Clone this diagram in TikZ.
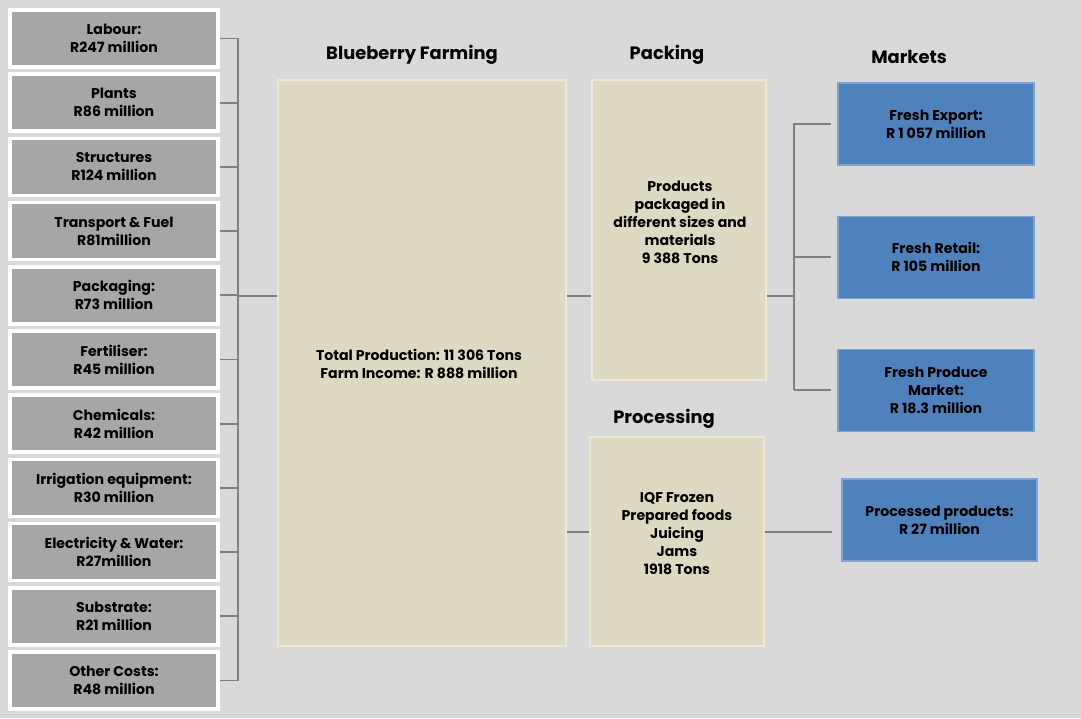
\documentclass[tikz,border=0pt]{standalone}
\usepackage{fontspec}
\setmainfont{Poppins}
\usepackage{xcolor}
\usepackage{tikz}
\usetikzlibrary{calc}
\usetikzlibrary{positioning}

\definecolor{bgGray}{HTML}{D9D9D9}
\definecolor{costGray}{HTML}{A6A6A6}
\definecolor{lineGray}{HTML}{808080}
\definecolor{stageBeige}{HTML}{DDD9C3}
\definecolor{stageEdge}{HTML}{ECE8D6}
\definecolor{mktBlue}{HTML}{4F81BD}
\definecolor{mktEdge}{HTML}{7FA2CF}

\begin{document}
\begin{tikzpicture}[x=0.75pt,y=-0.75pt,font=\fontsize{10.6}{13.5}\selectfont\bfseries,node distance=48.15pt]
  \tikzstyle{cost}=[draw=white, line width=2.6pt, fill=costGray, minimum width=156pt, minimum height=42.75pt, align=center, inner sep=1pt]
  \tikzstyle{stage}=[draw=stageEdge, line width=0.8pt, fill=stageBeige, inner sep=2pt]
  \tikzstyle{txt}=[align=center, inner sep=1pt]
  \tikzstyle{mkt}=[draw=mktEdge, line width=0.8pt, fill=mktBlue, minimum width=147pt, minimum height=61.5pt, align=center, inner sep=1pt]
  \tikzstyle{ttl}=[font=\fontsize{13.4}{16}\selectfont\bfseries]
  \tikzstyle{conn}=[draw=lineGray, line width=1.4pt]

  \fill[bgGray] (0,0) rectangle (1081,718);
  \useasboundingbox (0,0) rectangle (1081,718);

  % cost column
  \node[cost] (lab) at (114,38.5) {Labour:\\R247 million};
  \node[cost] (pla) [below of=lab] {Plants\\R86 million};
  \node[cost] (str) [below of=pla] {Structures\\R124 million};
  \node[cost] (tra) [below of=str] {Transport \& Fuel\\R81million};
  \node[cost] (pac) [below of=tra] {Packaging:\\R73 million};
  \node[cost] (fer) [below of=pac] {Fertiliser:\\R45 million};
  \node[cost] (che) [below of=fer] {Chemicals:\\R42 million};
  \node[cost] (irr) [below of=che] {Irrigation equipment:\\R30 million};
  \node[cost] (ele) [below of=irr] {Electricity \& Water:\\R27million};
  \node[cost] (sub) [below of=ele] {Substrate:\\R21 million};
  \node[cost] (oth) [below of=sub] {Other Costs:\\R48 million};

  % stages
  \node[stage, minimum width=216pt, minimum height=424.5pt] (farm) at (422,363) {};
  \node[stage, minimum width=130.5pt, minimum height=225pt] (pack) at (679,230) {};
  \node[stage, minimum width=130.5pt, minimum height=156.75pt] (proc) at (677,541.5) {};
  \node[txt] (farmtxt) at (419,364) {Total Production: 11 306 Tons\\Farm Income: R 888 million};
  \node[txt] (packtxt) at (680,222) {Products\\packaged in\\different sizes and\\materials\\9 388 Tons};
  \node[txt] (proctxt) at (677,534) {IQF Frozen\\Prepared foods\\Juicing\\Jams\\1918 Tons};

  \node[ttl] (tfarm) at (412,55) {Blueberry Farming};
  \node[ttl] (tpack) at (667,55) {Packing};
  \node[ttl] (tmkt)  at (909,57) {Markets};
  \node[ttl] (tproc) at (664,419) {Processing};

  % markets
  \node[mkt] (exp) at (936,124) {Fresh Export:\\R 1 057 million};
  \node[mkt] (ret) [below=37.5pt of exp] {Fresh Retail:\\R 105 million};
  \node[mkt] (fpm) [below=37.5pt of ret] {Fresh Produce\\Market:\\R 18.3 million};
  \node[mkt, minimum width=146.25pt] (ppr) at (939.5,520) {Processed products:\\R 27 million};

  \coordinate (cbus) at (238,296);
  \coordinate (mbus) at (794,296);

  % cost bracket
  \draw[conn] (lab.east) -| (cbus |- lab.east) -- (cbus |- oth.east) -- (oth.east);
  \foreach \c in {pla,str,tra,pac,fer,che,irr,ele,sub}
    \draw[conn] (\c.east) -- (cbus |- \c.east);
  \draw[conn] (cbus) -- (farm.west |- cbus);

  % farm to packing / processing
  \draw[conn] (farm.east |- cbus) -- (pack.west |- cbus);
  \draw[conn] (farm.east |- 0,532) -- (proc.west |- 0,532);

  % packing to markets
  \draw[conn] (pack.east |- mbus) -- (mbus);
  \draw[conn, shorten >=4.5pt] (mbus |- fpm.west) -- (mbus |- exp.west) -- (exp.west);
  \draw[conn, shorten >=4.5pt] (mbus |- ret.west) -- (ret.west);
  \draw[conn, shorten >=4.5pt] (mbus |- fpm.west) -- (fpm.west);

  % processing to processed products
  \draw[conn, shorten >=6.75pt] (proc.east |- 0,532) -- (ppr.west |- 0,532);
\end{tikzpicture}
\end{document}
